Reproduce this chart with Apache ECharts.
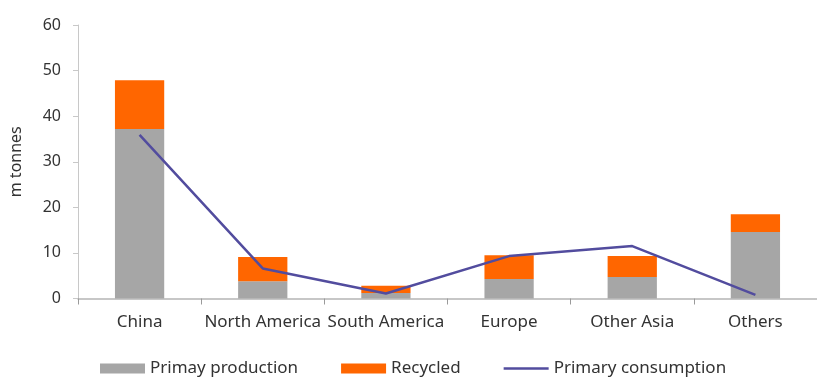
<!DOCTYPE html>
<html>
<head>
<meta charset="utf-8">
<script src="https://cdn.jsdelivr.net/npm/echarts@6/dist/echarts.min.js"></script>
<style>
  html, body { margin: 0; padding: 0; background: #fff; }
  #main { width: 817px; height: 378px; }
</style>
</head>
<body>
<div id="main"></div>
<script>
// chart data
var categories = ['China', 'North America', 'South America', 'Europe', 'Other Asia', 'Others'];
var primaryProduction = [37.2, 3.8, 1.2, 4.3, 4.7, 14.6];
var recycled = [10.7, 5.3, 1.6, 5.2, 4.6, 3.9];
var primaryConsumption = [35.9, 6.6, 1.1, 9.3, 11.5, 0.8];
var yTicks = [0, 10, 20, 30, 40, 50, 60];

var fontFamily = '"Noto Sans", sans-serif';
var textColor = '#333333';

var myChart = echarts.init(document.getElementById('main'), null, {renderer: 'canvas'});

var option = {
  animation: false,
  textStyle: {fontFamily: fontFamily, color: textColor},
  grid: {left: 75, right: -9, top: 25, bottom: 79.5},
  legend: {
    left: 95,
    top: 355,
    itemWidth: 45,
    itemHeight: 10,
    itemGap: 43,
    textStyle: {fontSize: 17, color: textColor, fontFamily: fontFamily},
    data: [
      {name: 'Primay production', icon: 'rect'},
      {name: 'Recycled', icon: 'rect'},
      {name: 'Primary consumption', icon: 'path://M0,0 L45,0 L45,2.5 L0,2.5 Z'}
    ]
  },
  xAxis: {
    type: 'category',
    data: categories,
    axisLine: {lineStyle: {color: '#b5b5b5', width: 1.5}},
    axisTick: {show: true, length: 6, lineStyle: {color: '#9a9a9a'}},
    axisLabel: {fontSize: 17, color: textColor, margin: 15, interval: 0}
  },
  yAxis: {
    type: 'value',
    min: yTicks[0],
    max: yTicks[yTicks.length - 1],
    interval: 10,
    name: 'm tonnes',
    nameLocation: 'middle',
    nameGap: 54,
    nameTextStyle: {fontSize: 16, color: textColor},
    axisLine: {show: true, lineStyle: {color: '#c8c8c8'}},
    axisTick: {show: true, length: 5, lineStyle: {color: '#c8c8c8'}},
    axisLabel: {fontSize: 16, color: textColor, margin: 17},
    splitLine: {show: false}
  },
  series: [
    {
      name: 'Primay production',
      type: 'bar',
      stack: 'total',
      barWidth: '40%',
      itemStyle: {color: '#a6a6a6'},
      data: primaryProduction
    },
    {
      name: 'Recycled',
      type: 'bar',
      stack: 'total',
      barWidth: '40%',
      itemStyle: {color: '#ff6600'},
      data: recycled
    },
    {
      name: 'Primary consumption',
      type: 'line',
      showSymbol: false,
      symbol: 'none',
      lineStyle: {color: '#524c9e', width: 2.5},
      itemStyle: {color: '#524c9e'},
      data: primaryConsumption
    }
  ]
};

myChart.setOption(option);
</script>
</body>
</html>
